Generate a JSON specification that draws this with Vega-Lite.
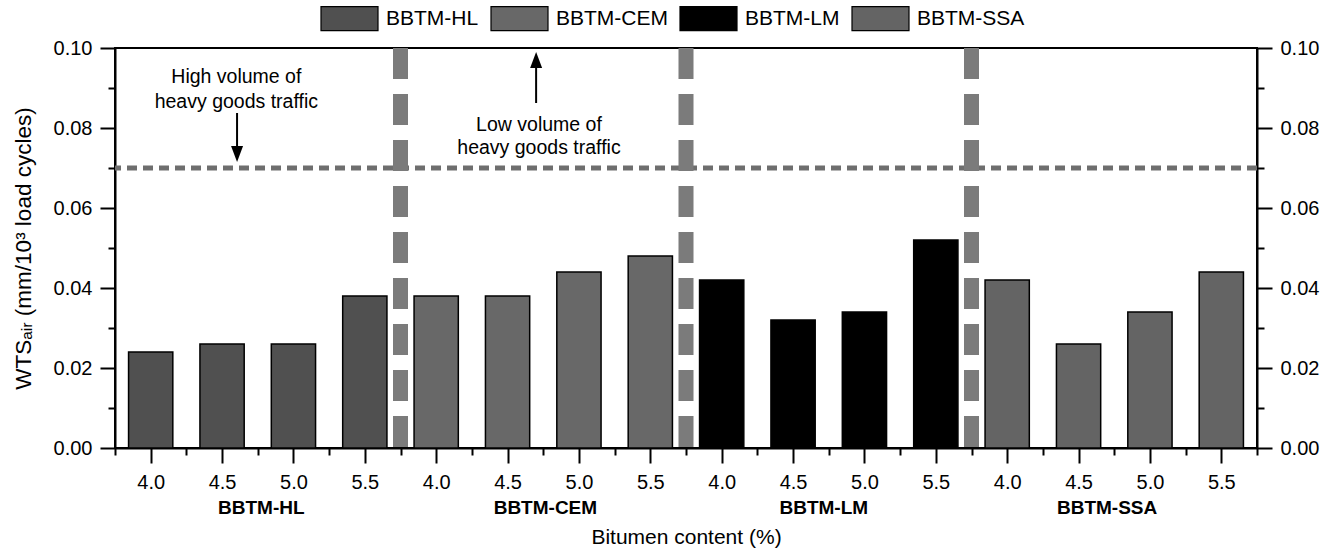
{
  "$schema": "https://vega.github.io/schema/vega-lite/v6.json",
  "width": 1142,
  "height": 400,
  "autosize": {"type": "none"},
  "padding": {"left": 115, "top": 48, "right": 75, "bottom": 104},
  "config": {
    "view": {"stroke": "black", "strokeWidth": 2},
    "font": "Liberation Sans",
    "axis": {
      "domainColor": "black", "domainWidth": 2, "tickColor": "black", "tickWidth": 2,
      "labelColor": "black", "titleColor": "black", "grid": false,
      "labelFont": "Liberation Sans", "titleFont": "Liberation Sans",
      "labelFontSize": 20, "titleFontSize": 21, "titleFontWeight": "normal",
      "labelOverlap": false, "labelFlush": false, "labelBound": false
    }
  },
  "datasets": {
    "bars": [
      {"id": "HL 4.0", "mix": "BBTM-HL", "wts": 0.024},
      {"id": "HL 4.5", "mix": "BBTM-HL", "wts": 0.026},
      {"id": "HL 5.0", "mix": "BBTM-HL", "wts": 0.026},
      {"id": "HL 5.5", "mix": "BBTM-HL", "wts": 0.038},
      {"id": "CEM 4.0", "mix": "BBTM-CEM", "wts": 0.038},
      {"id": "CEM 4.5", "mix": "BBTM-CEM", "wts": 0.038},
      {"id": "CEM 5.0", "mix": "BBTM-CEM", "wts": 0.044},
      {"id": "CEM 5.5", "mix": "BBTM-CEM", "wts": 0.048},
      {"id": "LM 4.0", "mix": "BBTM-LM", "wts": 0.042},
      {"id": "LM 4.5", "mix": "BBTM-LM", "wts": 0.032},
      {"id": "LM 5.0", "mix": "BBTM-LM", "wts": 0.034},
      {"id": "LM 5.5", "mix": "BBTM-LM", "wts": 0.052},
      {"id": "SSA 4.0", "mix": "BBTM-SSA", "wts": 0.042},
      {"id": "SSA 4.5", "mix": "BBTM-SSA", "wts": 0.026},
      {"id": "SSA 5.0", "mix": "BBTM-SSA", "wts": 0.034},
      {"id": "SSA 5.5", "mix": "BBTM-SSA", "wts": 0.044}
    ],
    "limit": [{"y": 0.07}],
    "seps": [{"pos": 4, "top": 0.1, "bottom": 0}, {"pos": 8, "top": 0.1, "bottom": 0}, {"pos": 12, "top": 0.1, "bottom": 0}],
    "notes": [
      {"x": 1.70, "y": 0.0928, "label": "High volume of"},
      {"x": 1.70, "y": 0.0866, "label": "heavy goods traffic"},
      {"x": 5.94, "y": 0.0808, "label": "Low volume of"},
      {"x": 5.94, "y": 0.0750, "label": "heavy goods traffic"}
    ],
    "groups": [
      {"x": 2.05, "y": -0.015, "label": "BBTM-HL"},
      {"x": 6.03, "y": -0.015, "label": "BBTM-CEM"},
      {"x": 9.93, "y": -0.015, "label": "BBTM-LM"},
      {"x": 13.9, "y": -0.015, "label": "BBTM-SSA"}
    ],
    "arrows": [
      {"x": 1.71, "from": 0.08375, "to": 0.0745, "head": 0.0735, "dir": "down"},
      {"x": 5.90, "from": 0.08625, "to": 0.0955, "head": 0.097, "dir": "up"}
    ]
  },
  "resolve": {"scale": {"x": "independent"}, "axis": {"x": "independent", "y": "independent"}},
  "layer": [
    {
      "data": {"name": "bars"},
      "mark": {"type": "bar", "stroke": "black", "strokeWidth": 1.5},
      "encoding": {
        "x": {"field": "id", "type": "nominal", "sort": null, "axis": null,
              "scale": {"paddingInner": 0.38, "paddingOuter": 0.19}},
        "y": {"field": "wts", "type": "quantitative",
              "scale": {"domain": [0, 0.1], "nice": false, "zero": true},
              "axis": {
                "orient": "left",
                "values": [0, 0.01, 0.02, 0.03, 0.04, 0.05, 0.06, 0.07, 0.08, 0.09, 0.1],
                "labelExpr": "round(datum.value*100) % 2 === 0 ? format(datum.value, '.2f') : ''",
                "tickSize": {"condition": {"test": "round(datum.value*100) % 2 === 0", "value": 15}, "value": 7},
                "labelPadding": 8,
                "title": "WTSₐᵢᵣ (mm/10³ load cycles)",
                "titleFontSize": 22.5,
                "titlePadding": 18
              }},
        "fill": {"field": "mix", "type": "nominal",
                 "scale": {"domain": ["BBTM-HL", "BBTM-CEM", "BBTM-LM", "BBTM-SSA"],
                           "range": ["#505050", "#686868", "#000000", "#646464"]},
                 "legend": {
                   "orient": "none", "legendX": 205, "legendY": -59, "direction": "horizontal",
                   "title": null,
                   "symbolType": "M-1,-0.42H1V0.42H-1Z", "symbolSize": 3249,
                   "symbolStrokeColor": "black", "symbolStrokeWidth": 1.2, "symbolOpacity": 1,
                   "labelFontSize": 21, "labelFont": "Liberation Sans", "labelColor": "black",
                   "labelOffset": 7, "columnPadding": 9, "labelLimit": 300
                 }}
      }
    },
    {
      "data": {"name": "limit"},
      "mark": {"type": "rule", "strokeDash": [10, 6], "strokeWidth": 5, "color": "#6e6e6e"},
      "encoding": {
        "y": {"field": "y", "type": "quantitative",
              "scale": {"domain": [0, 0.1], "nice": false, "zero": true},
              "axis": {
                "orient": "right",
                "values": [0, 0.01, 0.02, 0.03, 0.04, 0.05, 0.06, 0.07, 0.08, 0.09, 0.1],
                "labelExpr": "round(datum.value*100) % 2 === 0 ? format(datum.value, '.2f') : ''",
                "tickSize": {"condition": {"test": "round(datum.value*100) % 2 === 0", "value": 15}, "value": 7},
                "labelPadding": 8,
                "title": null
              }}
      }
    },
    {
      "data": {"name": "seps"},
      "mark": {"type": "rule", "strokeDash": [31, 15], "strokeWidth": 15, "color": "#7b7b7b"},
      "encoding": {
        "x": {"field": "pos", "type": "quantitative",
              "scale": {"domain": [0, 16], "nice": false, "zero": false},
              "axis": {
                "orient": "bottom",
                "values": [0, 0.5, 1, 1.5, 2, 2.5, 3, 3.5, 4, 4.5, 5, 5.5, 6, 6.5, 7, 7.5, 8, 8.5, 9, 9.5, 10, 10.5, 11, 11.5, 12, 12.5, 13, 13.5, 14, 14.5, 15, 15.5, 16],
                "labelExpr": "datum.value % 1 === 0 ? '' : (floor(datum.value) % 4 === 0 ? '4.0' : floor(datum.value) % 4 === 1 ? '4.5' : floor(datum.value) % 4 === 2 ? '5.0' : '5.5')",
                "tickSize": {"condition": {"test": "datum.value % 1 !== 0", "value": 15}, "value": 7},
                "labelPadding": 9,
                "title": "Bitumen content (%)",
                "titlePadding": 34
              }},
        "y": {"field": "top", "type": "quantitative", "scale": {"domain": [0, 0.1], "nice": false}, "axis": null},
        "y2": {"field": "bottom"}
      }
    },
    {
      "data": {"name": "notes"},
      "mark": {"type": "text", "fontSize": 19.5, "font": "Liberation Sans", "color": "black", "baseline": "middle", "align": "center"},
      "encoding": {
        "x": {"field": "x", "type": "quantitative", "scale": {"domain": [0, 16], "nice": false, "zero": false}, "axis": null},
        "y": {"field": "y", "type": "quantitative", "scale": {"domain": [0, 0.1], "nice": false}, "axis": null},
        "text": {"field": "label"}
      }
    },
    {
      "data": {"name": "groups"},
      "mark": {"type": "text", "fontSize": 19, "fontWeight": "bold", "font": "Liberation Sans", "color": "black", "baseline": "middle", "align": "center"},
      "encoding": {
        "x": {"field": "x", "type": "quantitative", "scale": {"domain": [0, 16], "nice": false, "zero": false}, "axis": null},
        "y": {"field": "y", "type": "quantitative", "scale": {"domain": [0, 0.1], "nice": false}, "axis": null},
        "text": {"field": "label"}
      }
    },
    {
      "data": {"name": "arrows"},
      "mark": {"type": "rule", "strokeWidth": 2, "color": "black"},
      "encoding": {
        "x": {"field": "x", "type": "quantitative", "scale": {"domain": [0, 16], "nice": false, "zero": false}, "axis": null},
        "y": {"field": "from", "type": "quantitative", "scale": {"domain": [0, 0.1], "nice": false}, "axis": null},
        "y2": {"field": "to"}
      }
    },
    {
      "data": {"name": "arrows"},
      "mark": {"type": "point", "filled": true, "size": 256, "color": "black", "opacity": 1, "strokeWidth": 0},
      "encoding": {
        "x": {"field": "x", "type": "quantitative", "scale": {"domain": [0, 16], "nice": false, "zero": false}, "axis": null},
        "y": {"field": "head", "type": "quantitative", "scale": {"domain": [0, 0.1], "nice": false}, "axis": null},
        "shape": {"field": "dir", "type": "nominal",
                  "scale": {"domain": ["down", "up"], "range": ["M-0.75,-1L0.75,-1L0,1Z", "M-0.75,1L0.75,1L0,-1Z"]},
                  "legend": null}
      }
    }
  ]
}
